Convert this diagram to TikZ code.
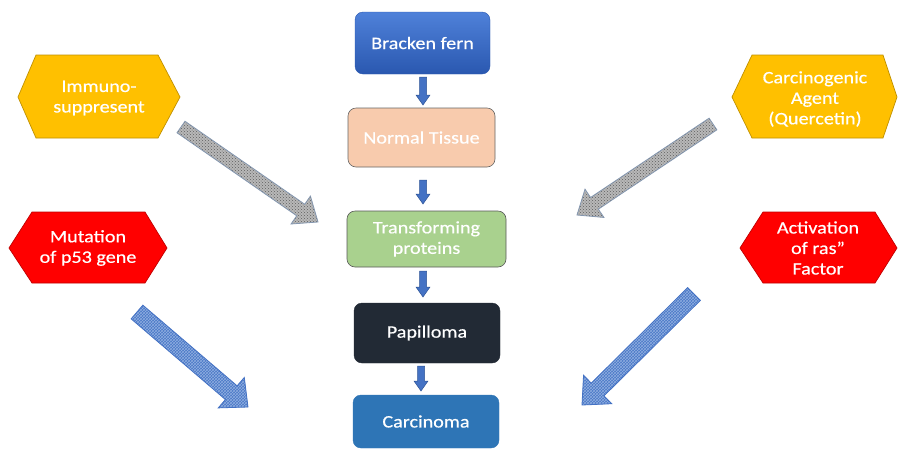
\documentclass[tikz,border=0pt]{standalone}
\usepackage{fontspec}
\setmainfont{Carlito}[FakeStretch=1.15,FakeBold=0.5]
\usetikzlibrary{calc,patterns}
\definecolor{fernA}{HTML}{4F81D9}
\definecolor{fernB}{HTML}{2A58B0}
\definecolor{peach}{HTML}{F8CBAD}
\definecolor{greenbox}{HTML}{A9D18E}
\definecolor{darkbox}{HTML}{222A35}
\definecolor{carcblue}{HTML}{2E75B6}
\definecolor{arrblue}{HTML}{4472C4}
\definecolor{arrblueD}{HTML}{2F5597}
\definecolor{hexyellow}{HTML}{FFC000}
\definecolor{hexyellowD}{HTML}{BF9000}
\definecolor{hexred}{HTML}{FF0000}
\definecolor{hexredD}{HTML}{C00000}
\definecolor{graytex}{HTML}{B8B8B8}
\definecolor{graydot}{HTML}{5E5E5E}
\definecolor{grayedge}{HTML}{8497B0}
\definecolor{bluetex}{HTML}{4A78C6}
\definecolor{bluelines}{HTML}{8FAEE0}
\newcommand\blockarr[6]{%
  \path let \p1=($(#3)-(#2)$), \n1={atan2(\y1,\x1)}, \n2={veclen(\x1,\y1)} in
    \pgfextra{\pgfmathsetmacro\baang{\n1}\global\let\baang\baang
      \pgfmathsetmacro\balen{\n2}\global\let\balen\balen};
  \begin{scope}[shift={(#2)}, rotate=\baang]
    \draw[#1] (0pt,#4pt) -- ({(\balen-#6)*1pt},#4pt) -- ({(\balen-#6)*1pt},#5pt)
      -- ({\balen*1pt},0pt) -- ({(\balen-#6)*1pt},-#5pt) -- ({(\balen-#6)*1pt},-#4pt)
      -- (0pt,-#4pt) -- cycle;
  \end{scope}}
\begin{document}
\begin{tikzpicture}[x=1pt,y=-1pt,
  txt/.style={text=white, align=center, font=\fontsize{17.5}{20.5}\selectfont},
  box/.style={txt, rounded corners=8pt, inner sep=0pt},
  hexy/.style={fill=hexyellow, draw=hexyellowD, line width=0.7pt},
  hexr/.style={fill=hexred, draw=hexredD, line width=0.7pt},
  smallarr/.style={fill=arrblue, draw=arrblueD, line width=0.5pt},
  grayarr/.style={draw=grayedge, line width=0.8pt, preaction={fill=graytex}, pattern=crosshatch dots, pattern color=graydot},
  bluearr/.style={draw=arrblue, line width=0.8pt, preaction={fill=bluetex}, pattern=crosshatch, pattern color=bluelines}]
\useasboundingbox (0,0) rectangle (898,451);
\fill[white] (0,0) rectangle (898,451);

% central boxes
\node[box, top color=fernA, bottom color=fernB, draw=fernB, minimum width=135pt, minimum height=62pt] (fern) at (422.5,43) {Bracken fern};
\node[box, fill=peach, draw=gray!80!black, line width=0.6pt, minimum width=147pt, minimum height=59pt] (tissue) at (421.5,137.5) {Normal Tissue};
\node[box, fill=greenbox, draw=gray!70!black, line width=0.6pt, minimum width=159pt, minimum height=56pt] (trans) at (426.5,239) {Transforming\\proteins};
\node[box, fill=darkbox, draw=darkbox, minimum width=146pt, minimum height=60pt] (pap) at (427,333) {Papilloma};
\node[box, fill=carcblue, draw=carcblue, minimum width=146pt, minimum height=53pt] (carc) at (426,421.5) {Carcinoma};

% small arrows between boxes
\coordinate (a1s) at (423,77);  \coordinate (a1e) at (423,105);
\coordinate (a2s) at (423,180); \coordinate (a2e) at (423,204);
\coordinate (a3s) at (423,271); \coordinate (a3e) at (423,297);
\coordinate (a4s) at (421,366); \coordinate (a4e) at (421,391);
\blockarr{smallarr}{a1s}{a1e}{3.5}{7}{10}
\blockarr{smallarr}{a2s}{a2e}{3.5}{7}{10}
\blockarr{smallarr}{a3s}{a3e}{3.5}{7}{10}
\blockarr{smallarr}{a4s}{a4e}{3.5}{7}{10}

% hexagons
\draw[hexy] (18,97) -- (36,55) -- (158,55) -- (180,97) -- (158,138) -- (36,138) -- cycle;
\node[txt] (immuno) at (99,98) {Immuno-\\suppresent};
\draw[hexy] (732,97) -- (752,55) -- (883,55) -- (897,97) -- (883,138) -- (752,138) -- cycle;
\node[txt] (agent) at (815,99) {Carcinogenic\\Agent\\(Quercetin)};
\draw[hexr] (9,248) -- (32,212) -- (145,212) -- (167,248) -- (145,283) -- (32,283) -- cycle;
\node[txt] (p53) at (88,248) {Mutation\\of p53 gene};
\draw[hexr] (740,248) -- (763,212) -- (875,212) -- (897,248) -- (875,283) -- (763,283) -- cycle;
\node[txt] (ras) at (818,248) {Activation\\of ras”\\Factor};

% big textured arrows
\coordinate (g1s) at (181,127); \coordinate (g1e) at (318,222);
\coordinate (g2s) at (713,124); \coordinate (g2e) at (577,215);
\coordinate (b1s) at (137,312); \coordinate (b1e) at (248,407);
\coordinate (b2s) at (694,294); \coordinate (b2e) at (582,405);
\blockarr{grayarr}{g1s}{g1e}{7}{17}{21}
\blockarr{grayarr}{g2s}{g2e}{7}{17}{21}
\blockarr{bluearr}{b1s}{b1e}{9}{20}{22}
\blockarr{bluearr}{b2s}{b2e}{9}{20}{22}
\end{tikzpicture}
\end{document}
